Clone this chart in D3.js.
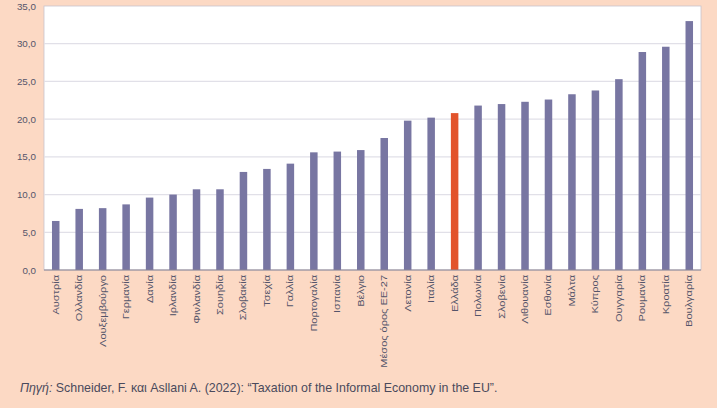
<!DOCTYPE html>
<html>
<head>
<meta charset="utf-8">
<script src="https://cdn.jsdelivr.net/npm/d3@7"></script>
<style>
  body { margin: 0; background: #fff; }
  svg { display: block; font-family: "Liberation Sans", Arial, sans-serif; }
  .axis.y text { fill: #55556a; font-size: 9.8px; }
  .axis.y path, .axis.y line { stroke: none; }
  .cat { fill: #55556a; font-size: 11px; }
  .source { fill: #4a4a5c; font-size: 12.4px; }
</style>
</head>
<body>
<svg id="chart" width="720" height="413"></svg>
<script>
// χώρες / κατηγορίες
const categories = [
  "Αυστρία", "Ολλανδία", "Λουξεμβούργο", "Γερμανία", "Δανία", "Ιρλανδία",
  "Φινλανδία", "Σουηδία", "Σλοβακία", "Τσεχία", "Γαλλία", "Πορτογαλία",
  "Ισπανία", "Βέλγιο", "Μέσος όρος ΕΕ-27", "Λετονία", "Ιταλία", "Ελλάδα",
  "Πολωνία", "Σλοβενία", "Λιθουανία", "Εσθονία", "Μάλτα", "Κύπρος",
  "Ουγγαρία", "Ρουμανία", "Κροατία", "Βουλγαρία"
];
const values = [
  6.5, 8.1, 8.2, 8.7, 9.6, 10.0,
  10.7, 10.7, 13.0, 13.4, 14.1, 15.6,
  15.7, 15.9, 17.5, 19.8, 20.2, 20.8,
  21.8, 22.0, 22.3, 22.6, 23.3, 23.8,
  25.3, 28.9, 29.6, 33.0
];
const highlight = "Ελλάδα";
const yTicks = [0, 5, 10, 15, 20, 25, 30, 35];

const data = categories.map((c, i) => ({ name: c, value: values[i] }));

const plot = { left: 44, top: 6, right: 701, bottom: 270 };

const svg = d3.select("#chart");

// background
svg.append("rect")
  .attr("x", 0).attr("y", 0)
  .attr("width", 717).attr("height", 408)
  .attr("fill", "#fcd9c4");

// plot area
svg.append("rect")
  .attr("x", plot.left).attr("y", plot.top)
  .attr("width", plot.right - plot.left)
  .attr("height", plot.bottom - plot.top)
  .attr("fill", "#fff")
  .attr("stroke", "#c9c4cc")
  .attr("stroke-width", 0.8);

const x = d3.scaleBand()
  .domain(categories)
  .range([plot.left, plot.right])
  .paddingInner(0.68)
  .paddingOuter(0.34);

const y = d3.scaleLinear()
  .domain([0, 35])
  .range([plot.bottom, plot.top]);

// gridlines
svg.append("g")
  .selectAll("line")
  .data(yTicks.slice(1, -1))
  .enter()
  .append("line")
  .attr("x1", plot.left)
  .attr("x2", plot.right)
  .attr("y1", d => y(d))
  .attr("y2", d => y(d))
  .attr("stroke", "#e1e0e8")
  .attr("stroke-width", 1.2);

const fmt = d => d3.format(".1f")(d).replace(".", ",");

svg.append("g")
  .attr("class", "axis y")
  .attr("transform", `translate(${plot.left},0)`)
  .call(d3.axisLeft(y).tickValues(yTicks).tickFormat(fmt).tickSize(0).tickPadding(8));

// bars
svg.append("g")
  .selectAll("rect")
  .data(data)
  .enter()
  .append("rect")
  .attr("x", d => x(d.name))
  .attr("y", d => y(d.value))
  .attr("width", x.bandwidth())
  .attr("height", d => y(0) - y(d.value))
  .attr("fill", d => d.name === highlight ? "#e2532b" : "#7876a2");

// baseline
svg.append("line")
  .attr("x1", plot.left).attr("x2", plot.right)
  .attr("y1", plot.bottom).attr("y2", plot.bottom)
  .attr("stroke", "#8a8394")
  .attr("stroke-width", 1.2);

// category labels (narrow glyphs, long run like the original)
svg.append("g")
  .selectAll("text")
  .data(categories)
  .enter()
  .append("text")
  .attr("class", "cat")
  .attr("transform", d => `translate(${x(d) + x.bandwidth() / 2 + 3},${plot.bottom + 5})rotate(-90)scale(1,0.75)`)
  .attr("text-anchor", "end")
  .text(d => d);

// source
const src = svg.append("text")
  .attr("class", "source")
  .attr("x", 20)
  .attr("y", 392);
src.append("tspan").attr("font-style", "italic").text("Πηγή:");
src.append("tspan").text(" Schneider, F. και Asllani A. (2022): “Taxation of the Informal Economy in the EU”.");
</script>
</body>
</html>
